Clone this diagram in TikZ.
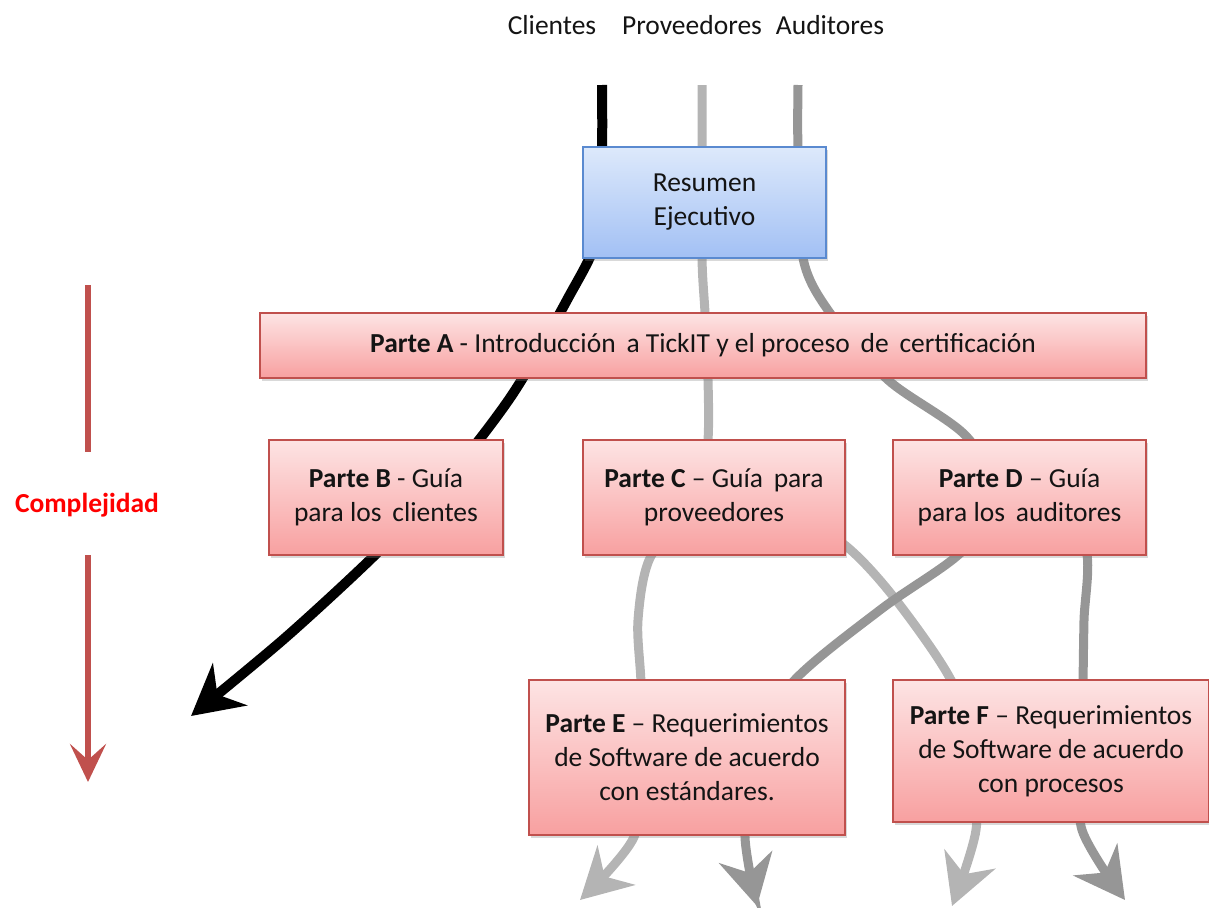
\documentclass[tikz,border=0pt]{standalone}
\usepackage{fontspec}
\setmainfont{Carlito}
\usetikzlibrary{arrows.meta,shadows,backgrounds}
\definecolor{pinktop}{HTML}{FDE4E4}
\definecolor{pinkbot}{HTML}{F8A0A0}
\definecolor{pinkline}{HTML}{C0504D}
\definecolor{bluetop}{HTML}{DDE9FB}
\definecolor{bluebot}{HTML}{A2C0F4}
\definecolor{blueline}{HTML}{5A8AD0}
\definecolor{lightflow}{HTML}{B4B4B4}
\definecolor{darkflow}{HTML}{969696}
\definecolor{cplx}{HTML}{C0504D}
\begin{document}
\begin{tikzpicture}[x=1pt,y=-1pt,
  txt/.style={font=\fontsize{27.5}{34}\selectfont, text=black!92},
  boxbase/.style={txt, draw, line width=1.3pt, inner sep=0pt, align=center, anchor=center,
     drop shadow={shadow xshift=2pt,shadow yshift=-3pt,opacity=0.3}},
  pinkbox/.style={boxbase, draw=pinkline, top color=pinktop, bottom color=pinkbot},
  bluebox/.style={boxbase, draw=blueline, top color=bluetop, bottom color=bluebot},
  flowblack/.style={line width=10pt, black},
  flowlight/.style={line width=9pt, lightflow},
  flowdark/.style={line width=9pt, darkflow},
  bigtip/.style={-{Stealth[length=50pt,width=54pt,inset=16pt]}},
  lbl/.style={txt, anchor=center, inner sep=0pt},
]
\useasboundingbox (0,0) rectangle (1209,907);

% top labels
\node[lbl] (tcl) at (552,25) {Clientes};
\node[lbl] (tpr) at (692,25) {Proveedores};
\node[lbl] (tau) at (830,25) {Auditores};

% boxes
\node[bluebox, minimum width=243pt, minimum height=111pt] (res) at (704.5,202.5) {Resumen\\Ejecutivo};
\node[pinkbox, minimum width=886pt, minimum height=65pt] (pa) at (703,345.5)
  {\textbf{Parte A} - Introducción\, a TickIT y el proceso\, de\, certificación};
\node[pinkbox, minimum width=234pt, minimum height=115pt] (pb) at (386,497.5)
  {\textbf{Parte B} - Guía\\para los\, clientes};
\node[pinkbox, minimum width=262pt, minimum height=115pt] (pc) at (714,497.5)
  {\textbf{Parte C} -- Guía\, para\\proveedores};
\node[pinkbox, minimum width=253pt, minimum height=115pt] (pd) at (1019.5,497.5)
  {\textbf{Parte D} -- Guía\\para los\, auditores};
\node[pinkbox, minimum width=316pt, minimum height=155pt] (pe) at (687,757.5)
  {\textbf{Parte E} -- Requerimientos\\de Software de acuerdo\\con estándares.};
\node[pinkbox, minimum width=316pt, minimum height=142pt] (pf) at (1051,751)
  {\textbf{Parte F} -- Requerimientos\\de Software de acuerdo\\con procesos};

% complexity axis
\node[lbl, font=\fontsize{27.5}{34}\selectfont\bfseries, text=red] (cx) at (87,505) {Complejidad};
\coordinate (cxtop) at (88,285);
\coordinate (cxbot) at (88,782);
\draw[line width=6pt, cplx] (cxtop) -- (cxtop |- 0,452);
\draw[line width=6pt, cplx, -{Stealth[length=38pt,width=36pt,inset=16pt]}] (cxtop |- 0,555) -- (cxbot);

% flow start / end points
\coordinate (scl) at (602,85);
\coordinate (spr) at (702,85);
\coordinate (sau) at (798,85);
\coordinate (ecl) at (191,716);
\coordinate (ee1) at (580,900);
\coordinate (ee2) at (757,906);
\coordinate (ef1) at (952,906);
\coordinate (ef2) at (1125,900);

\begin{pgfonlayer}{background}
% clients (black)
\draw[flowblack, bigtip] plot[smooth] coordinates {(scl) (602,150) (598,235) (567,300) (512,395) (445,482) (375,555) (285,638) (ecl)};
% providers (light grey)
\draw[flowlight, bigtip] plot[smooth] coordinates {(spr) (702,150) (702,258) (705,313) (708,380) (708,440) (700,505) (651,556) (638,620) (641,684) (641,760) (634,837) (ee1)};
\draw[flowlight, bigtip] plot[smooth] coordinates {(780,505) (846,546) (896,600) (953,684) (972,760) (976,830) (ef1)};
% auditors (dark grey)
\draw[flowdark, bigtip] plot[smooth] coordinates {(sau) (798,150) (803,258) (830,313) (888,380) (967,437) (1000,505) (957,556) (880,610) (791,684) (752,760) (745,837) (ee2)};
\draw[flowdark, bigtip] plot[smooth] coordinates {(1050,505) (1086,550) (1084,620) (1083,684) (1082,760) (1082,830) (ef2)};
\end{pgfonlayer}
\end{tikzpicture}
\end{document}
